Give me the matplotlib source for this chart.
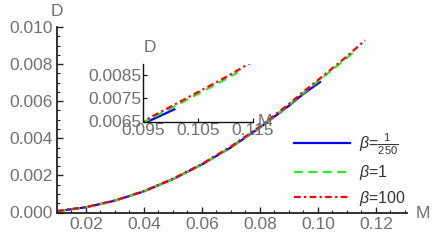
import matplotlib
matplotlib.use("Agg")
import matplotlib.pyplot as plt
from matplotlib.ticker import MultipleLocator, FixedLocator

plt.rcParams['font.family'] = ['Liberation Sans', 'DejaVu Sans']
plt.rcParams['mathtext.fontset'] = 'custom'
plt.rcParams['mathtext.rm'] = 'Liberation Sans'
plt.rcParams['mathtext.it'] = 'Liberation Sans:italic'

# ---- data ----
M_blue = [0.010, 0.020, 0.030, 0.040, 0.050, 0.060, 0.070, 0.080, 0.090, 0.095, 0.1007]
D_blue = [0.00007, 0.00028, 0.00064, 0.00114, 0.00180, 0.00259, 0.00351, 0.00458, 0.00576, 0.00640, 0.00703]

M_green = [0.010, 0.020, 0.030, 0.040, 0.050, 0.060, 0.070, 0.080, 0.090, 0.095, 0.100, 0.105, 0.110, 0.1122]
D_green = [0.00007, 0.00028, 0.00064, 0.00114, 0.00180, 0.00259, 0.00352, 0.00460, 0.00580, 0.00645, 0.00707, 0.00770, 0.00834, 0.00863]

M_red = [0.010, 0.020, 0.030, 0.040, 0.050, 0.060, 0.070, 0.080, 0.090, 0.095, 0.100, 0.105, 0.110, 0.1162]
D_red = [0.00008, 0.00029, 0.00065, 0.00116, 0.00182, 0.00262, 0.00356, 0.00464, 0.00585, 0.00651, 0.00714, 0.00778, 0.00842, 0.00928]

labels = [r'$\beta$=$\frac{1}{250}$', r'$\beta$=1', r'$\beta$=100']
colors = ['#0000ff', '#22ee22', '#ff0000']
styles = ['-', (0, (4, 2.5)), (0, (3, 1.5, 1, 1.5))]

xticks_main = [0.02, 0.04, 0.06, 0.08, 0.10, 0.12]
yticks_main = [0.000, 0.002, 0.004, 0.006, 0.008, 0.010]
xticks_in = [0.095, 0.105, 0.115]
yticks_in = [0.0065, 0.0075, 0.0085]

GRAY = '#707070'
FS = 12.5

fig = plt.figure(figsize=(4.36, 2.40), dpi=100)
ax = fig.add_axes([57/436, 1-212.5/240, (407-57)/436, (212.5-27)/240])

series = [(M_blue, D_blue), (M_green, D_green), (M_red, D_red)]
for (m, d), c, ls, lab in zip(series, colors, styles, labels):
    ax.plot(m, d, color=c, linestyle=ls, lw=1.6, label=lab)

ax.set_xlim(0.01, 0.1307)
ax.set_ylim(0.0, 0.010)
ax.spines['top'].set_visible(False)
ax.spines['right'].set_visible(False)
for s in ['left', 'bottom']:
    ax.spines[s].set_color('#222222')
    ax.spines[s].set_linewidth(1.3)
ax.xaxis.set_major_locator(FixedLocator(xticks_main))
ax.yaxis.set_major_locator(FixedLocator(yticks_main))
ax.xaxis.set_minor_locator(MultipleLocator(0.005))
ax.yaxis.set_minor_locator(MultipleLocator(0.0005))
ax.set_xticklabels([f'{v:.2f}' for v in xticks_main])
ax.set_yticklabels([f'{v:.3f}' for v in yticks_main])
ax.tick_params(which='major', direction='in', length=4, width=1, color='#222222',
               labelsize=FS, labelcolor=GRAY, pad=3)
ax.tick_params(which='minor', direction='in', length=2, width=0.8, color='#222222')
fig.text(57/436, 1-12/240, 'D', ha='center', va='center', fontsize=FS, color=GRAY)
fig.text(423/436, 1-213/240, 'M', ha='center', va='center', fontsize=FS, color=GRAY)

leg = ax.legend(loc='upper left', bbox_to_anchor=(294/436, 1-131/240), bbox_transform=fig.transFigure,
                frameon=False, fontsize=FS-1, handlelength=3.5, handletextpad=0.55,
                labelspacing=0.4, borderaxespad=0, borderpad=0)
for t in leg.get_texts():
    t.set_color('#333333')

# ---- inset ----
axi = fig.add_axes([143/436, 1-121.5/240, (253-143)/436, (121.5-64)/240])
for (m, d), c, ls in zip(series, colors, styles):
    axi.plot(m, d, color=c, linestyle=ls, lw=1.6)
axi.set_xlim(0.095, 0.115)
axi.set_ylim(0.0065, 0.009)
axi.patch.set_alpha(0)
axi.spines['top'].set_visible(False)
axi.spines['right'].set_visible(False)
for s in ['left', 'bottom']:
    axi.spines[s].set_color('#111111')
    axi.spines[s].set_linewidth(1.0)
axi.xaxis.set_major_locator(FixedLocator(xticks_in))
axi.yaxis.set_major_locator(FixedLocator(yticks_in))
axi.set_xticklabels([f'{v:.3f}' for v in xticks_in])
axi.set_yticklabels([f'{v:.4f}' for v in yticks_in])
axi.tick_params(direction='in', length=3, width=0.8, labelsize=FS, labelcolor=GRAY, pad=1)
fig.text(150/436, 1-48/240, 'D', ha='center', va='center', fontsize=FS, color=GRAY)
fig.text(265/436, 1-122/240, 'M', ha='center', va='center', fontsize=FS, color=GRAY)

fig.savefig('out.png', dpi=100)
